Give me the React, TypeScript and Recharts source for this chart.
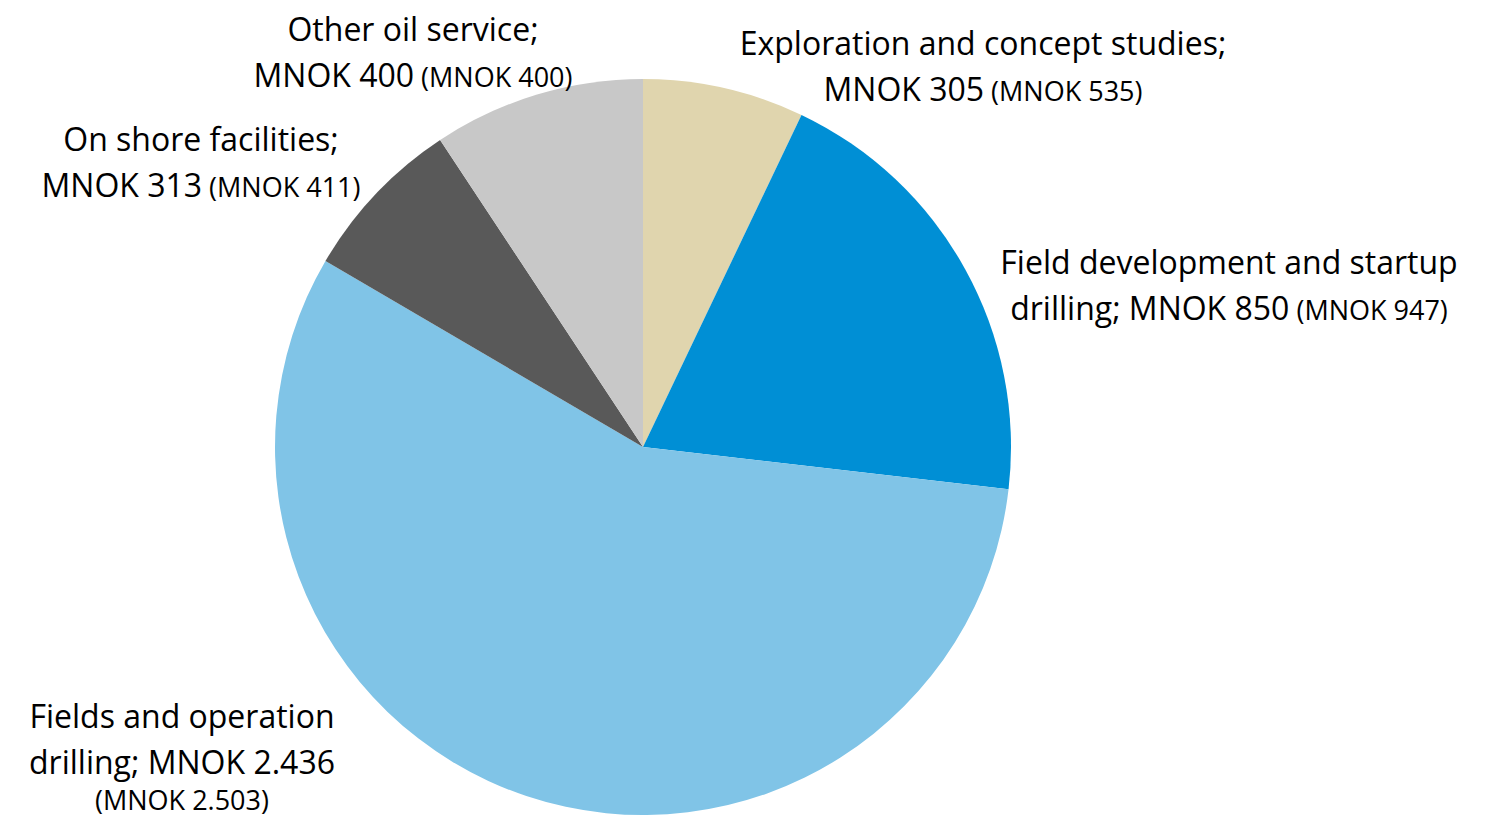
import React from 'react';
import { PieChart, Pie, Cell } from 'recharts';

// slices clockwise from 12 o'clock
const categories = [
  'Exploration and concept studies',
  'Field development and startup drilling',
  'Fields and operation drilling',
  'On shore facilities',
  'Other oil service',
];
const values = [305, 850, 2436, 313, 400];
const previousValues = [535, 947, 2503, 411, 400];

// how each label is broken into lines
const firstLines = [
  'Exploration and concept studies;',
  'Field development and startup',
  'Fields and operation',
  'On shore facilities;',
  'Other oil service;',
];
const secondLinePrefix = ['', 'drilling; ', 'drilling; ', '', ''];
const previousOnOwnLine = [false, false, true, false, false];

const colors = ['#E0D5AE', '#008FD5', '#80C4E7', '#595959', '#C8C8C8'];

// label anchor (text centre, first baseline) relative to the pie centre
const labelOffsets = [
  { dx: 340, dy: -392 },
  { dx: 586, dy: -173 },
  { dx: -461, dy: 281 },
  { dx: -442, dy: -296 },
  { dx: -230, dy: -406 },
];

const data = categories.map((name, i) => ({ name, value: values[i], previous: previousValues[i] }));

const fmt = (n: number) => String(n).replace(/\B(?=(\d{3})+(?!\d))/g, '.');

const FONT = '"Open Sans", Lato, sans-serif';
const BIG = 32;
const SMALL = 27;
const LINE = 46;

const renderLabel = (props: any) => {
  const { cx, cy, index } = props;
  const off = labelOffsets[index];
  const x = cx + off.dx;
  const y = cy + off.dy;
  const prev = `(MNOK ${fmt(previousValues[index])})`;
  const main = `${secondLinePrefix[index]}MNOK ${fmt(values[index])}`;
  return (
    <text x={x} y={y} textAnchor="middle" fill="#000" fontFamily={FONT} fontSize={BIG}>
      <tspan x={x} y={y}>{firstLines[index]}</tspan>
      <tspan x={x} y={y + LINE}>{main}</tspan>
      {previousOnOwnLine[index] ? (
        <tspan x={x} y={y + LINE + 36} fontSize={SMALL}>{prev}</tspan>
      ) : (
        <tspan fontSize={SMALL}>{' ' + prev}</tspan>
      )}
    </text>
  );
};

export default function App() {
  return (
    <div style={{ position: 'absolute', left: 0, top: 0, width: 1496, height: 819, background: '#fff' }}>
      <PieChart width={1496} height={819} margin={{ top: 0, right: 0, bottom: 0, left: 0 }}>
        <Pie
          data={data}
          dataKey="value"
          nameKey="name"
          cx={643}
          cy={447}
          outerRadius={368}
          startAngle={90}
          endAngle={-270}
          stroke="none"
          label={renderLabel}
          labelLine={false}
          isAnimationActive={false}
        >
          {data.map((d, i) => (
            <Cell key={d.name} fill={colors[i]} />
          ))}
        </Pie>
      </PieChart>
    </div>
  );
}
